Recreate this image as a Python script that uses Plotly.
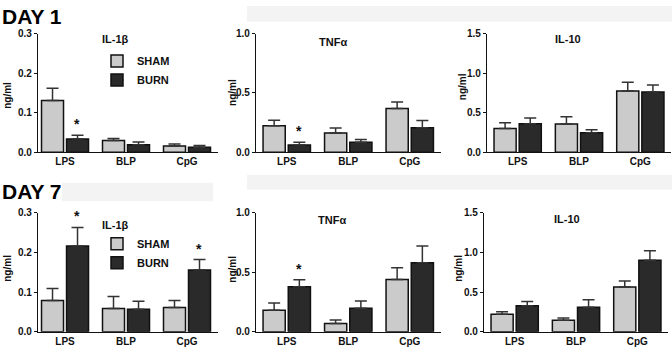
import plotly.graph_objects as go

W, H = 672, 353

categories = ["LPS", "BLP", "CpG"]

# Day 1
il1b_sham_d1 = [0.131, 0.030, 0.016]
il1b_sham_d1_err = [0.031, 0.005, 0.005]
il1b_burn_d1 = [0.034, 0.019, 0.013]
il1b_burn_d1_err = [0.009, 0.007, 0.004]

tnf_sham_d1 = [0.224, 0.162, 0.370]
tnf_sham_d1_err = [0.046, 0.043, 0.054]
tnf_burn_d1 = [0.062, 0.084, 0.208]
tnf_burn_d1_err = [0.024, 0.024, 0.060]

il10_sham_d1 = [0.300, 0.357, 0.774]
il10_sham_d1_err = [0.073, 0.093, 0.110]
il10_burn_d1 = [0.361, 0.247, 0.762]
il10_burn_d1_err = [0.073, 0.037, 0.089]

# Day 7
il1b_sham_d7 = [0.079, 0.059, 0.061]
il1b_sham_d7_err = [0.030, 0.030, 0.018]
il1b_burn_d7 = [0.216, 0.057, 0.156]
il1b_burn_d7_err = [0.047, 0.020, 0.026]

tnf_sham_d7 = [0.181, 0.070, 0.440]
tnf_sham_d7_err = [0.062, 0.030, 0.098]
tnf_burn_d7 = [0.378, 0.197, 0.581]
tnf_burn_d7_err = [0.060, 0.062, 0.139]

il10_sham_d7 = [0.222, 0.145, 0.565]
il10_sham_d7_err = [0.032, 0.028, 0.076]
il10_burn_d7 = [0.327, 0.310, 0.903]
il10_burn_d7_err = [0.056, 0.093, 0.117]

# significance (burn vs sham) flags per category
sig_il1b_d1 = [True, False, False]
sig_tnf_d1 = [True, False, False]
sig_il10_d1 = [False, False, False]
sig_il1b_d7 = [True, False, True]
sig_tnf_d7 = [True, False, False]
sig_il10_d7 = [False, False, False]

titles = ["IL-1β", "TNFα", "IL-10"]
y_label = "ng/ml"
row_labels = ["DAY 1", "DAY 7"]
series_names = ["SHAM", "BURN"]

il1b_ticks = [0.0, 0.1, 0.2, 0.3]
tnf_ticks = [0.0, 0.5, 1.0]
il10_ticks = [0.0, 0.5, 1.0, 1.5]

SHAM_COLOR = "#cbcbcb"
BURN_COLOR = "#2a2a2a"
FONT = "Arial, Liberation Sans, Helvetica, sans-serif"


def px_x(p):
    return p / W


def px_y(p):
    return 1 - p / H


panels = [
    # (row, col, sham, sham_err, burn, burn_err, sig, ticks, xdom px, ydom px, xrange)
    (0, 0, il1b_sham_d1, il1b_sham_d1_err, il1b_burn_d1, il1b_burn_d1_err, sig_il1b_d1, il1b_ticks, (38, 217.5), (28.5, 151.5), [-0.443, 2.5]),
    (0, 1, tnf_sham_d1, tnf_sham_d1_err, tnf_burn_d1, tnf_burn_d1_err, sig_tnf_d1, tnf_ticks, (256, 440.5), (28.5, 151.5), [-0.5, 2.5]),
    (0, 2, il10_sham_d1, il10_sham_d1_err, il10_burn_d1, il10_burn_d1_err, sig_il10_d1, il10_ticks, (487, 671), (28.5, 151.5), [-0.5, 2.5]),
    (1, 0, il1b_sham_d7, il1b_sham_d7_err, il1b_burn_d7, il1b_burn_d7_err, sig_il1b_d7, il1b_ticks, (38, 217.5), (214, 337.3), [-0.443, 2.5]),
    (1, 1, tnf_sham_d7, tnf_sham_d7_err, tnf_burn_d7, tnf_burn_d7_err, sig_tnf_d7, tnf_ticks, (256, 440.5), (214, 337.3), [-0.5, 2.5]),
    (1, 2, il10_sham_d7, il10_sham_d7_err, il10_burn_d7, il10_burn_d7_err, sig_il10_d7, il10_ticks, (484, 668), (214, 337.3), [-0.5, 2.5]),
]

title_pos = [(115, 34), (333, 37), (568, 34), (115, 227), (332, 222), (567, 220)]
ylab_pos = [(8, 93), (233, 90), (462, 84), (8, 272), (233, 273), (459, 272)]

fig = go.Figure()
layout = {}
annotations = []

for i, (row, col, sham, sham_e, burn, burn_e, sig, ticks, xd, yd, xr) in enumerate(panels):
    n = i + 1
    xa = "x" if n == 1 else f"x{n}"
    ya = "y" if n == 1 else f"y{n}"
    xkey = "xaxis" if n == 1 else f"xaxis{n}"
    ykey = "yaxis" if n == 1 else f"yaxis{n}"

    legend_ref = None
    show = False
    if i == 0:
        show, legend_ref = True, "legend"
    elif i == 3:
        show, legend_ref = True, "legend2"

    for name, vals, errs, color in ((series_names[0], sham, sham_e, SHAM_COLOR),
                                    (series_names[1], burn, burn_e, BURN_COLOR)):
        tr = dict(
            x=categories, y=vals, name=name, xaxis=xa, yaxis=ya,
            offsetgroup=name,
            marker=dict(color=color, line=dict(color="#111111", width=1.5)),
            error_y=dict(type="data", symmetric=False, array=errs,
                         arrayminus=[0] * len(errs), color="#333333",
                         thickness=1.5, width=6),
            showlegend=show, hoverinfo="skip",
        )
        if legend_ref:
            tr["legend"] = legend_ref
        fig.add_trace(go.Bar(**tr))

    # significance stars
    for c, v, e, s in zip(categories, burn, burn_e, sig):
        if s:
            annotations.append(dict(
                x=c, y=v + e, xref=xa, yref=ya, text="*", showarrow=False,
                xshift=12, yshift=11, font=dict(size=14, family=FONT, color="#111", weight="bold"),
                yanchor="middle", xanchor="center"))

    layout[xkey] = dict(
        domain=[px_x(xd[0]), px_x(xd[1])], anchor=ya, range=xr,
        type="category", showline=True, linecolor="#111", linewidth=1.2,
        ticks="", showgrid=False, zeroline=False,
        tickfont=dict(size=10, family=FONT, color="#111", weight="bold"),
    )
    layout[ykey] = dict(
        domain=[px_y(yd[1]), px_y(yd[0])], anchor=xa,
        range=[ticks[0], ticks[-1]], tickvals=ticks,
        ticktext=[f"{t:.1f}" for t in ticks],
        showline=True, linecolor="#111", linewidth=1.2,
        ticks="outside", ticklen=3, tickwidth=1, tickcolor="#111",
        showgrid=False, zeroline=False,
        tickfont=dict(size=10, family=FONT, color="#111", weight="bold"),
    )

    tx, ty = title_pos[i]
    annotations.append(dict(x=px_x(tx), y=px_y(ty), xref="paper", yref="paper",
                            xanchor="center", yanchor="middle",
                            text=titles[col], showarrow=False,
                            font=dict(size=11, family=FONT, color="#111", weight="bold")))
    lx, ly = ylab_pos[i]
    annotations.append(dict(x=px_x(lx), y=px_y(ly), xref="paper", yref="paper",
                            xanchor="center", yanchor="middle",
                            text=y_label, showarrow=False, textangle=-90,
                            font=dict(size=10, family=FONT, color="#111", weight="bold")))

annotations.append(dict(x=0, y=px_y(11), xref="paper", yref="paper", text=row_labels[0],
                        showarrow=False, xanchor="left", yanchor="middle",
                        font=dict(size=21, family=FONT, color="#000", weight="bold")))
annotations.append(dict(x=0, y=px_y(192), xref="paper", yref="paper", text=row_labels[1],
                        showarrow=False, xanchor="left", yanchor="middle",
                        font=dict(size=21, family=FONT, color="#000", weight="bold")))

band = "#f3f3f3"
shapes = [
    dict(type="rect", xref="paper", yref="paper", x0=px_x(247), x1=1, y0=px_y(16), y1=1,
         fillcolor=band, line=dict(width=0), layer="below"),
    dict(type="rect", xref="paper", yref="paper", x0=px_x(62), x1=px_x(213), y0=px_y(202), y1=px_y(183),
         fillcolor=band, line=dict(width=0), layer="below"),
    dict(type="rect", xref="paper", yref="paper", x0=px_x(247), x1=1, y0=px_y(190), y1=px_y(175),
         fillcolor=band, line=dict(width=0), layer="below"),
]

legend_common = dict(xanchor="left", yanchor="top", bgcolor="rgba(0,0,0,0)",
                     font=dict(size=11, family=FONT, color="#111", weight="bold"),
                     tracegroupgap=0, itemwidth=30)

fig.update_layout(
    width=W, height=H, margin=dict(l=0, r=0, t=0, b=0),
    paper_bgcolor="white", plot_bgcolor="white",
    barmode="group", bargap=0.18, bargroupgap=0.12,
    font=dict(family=FONT, color="#111"),
    legend=dict(x=px_x(97), y=px_y(42), **legend_common),
    legend2=dict(x=px_x(97), y=px_y(231), **legend_common),
    annotations=annotations, shapes=shapes,
    **layout,
)

fig.write_html(
    "out.html",
    config={"displayModeBar": False},
    post_script="document.body.style.margin='0';document.body.style.padding='0';",
)
